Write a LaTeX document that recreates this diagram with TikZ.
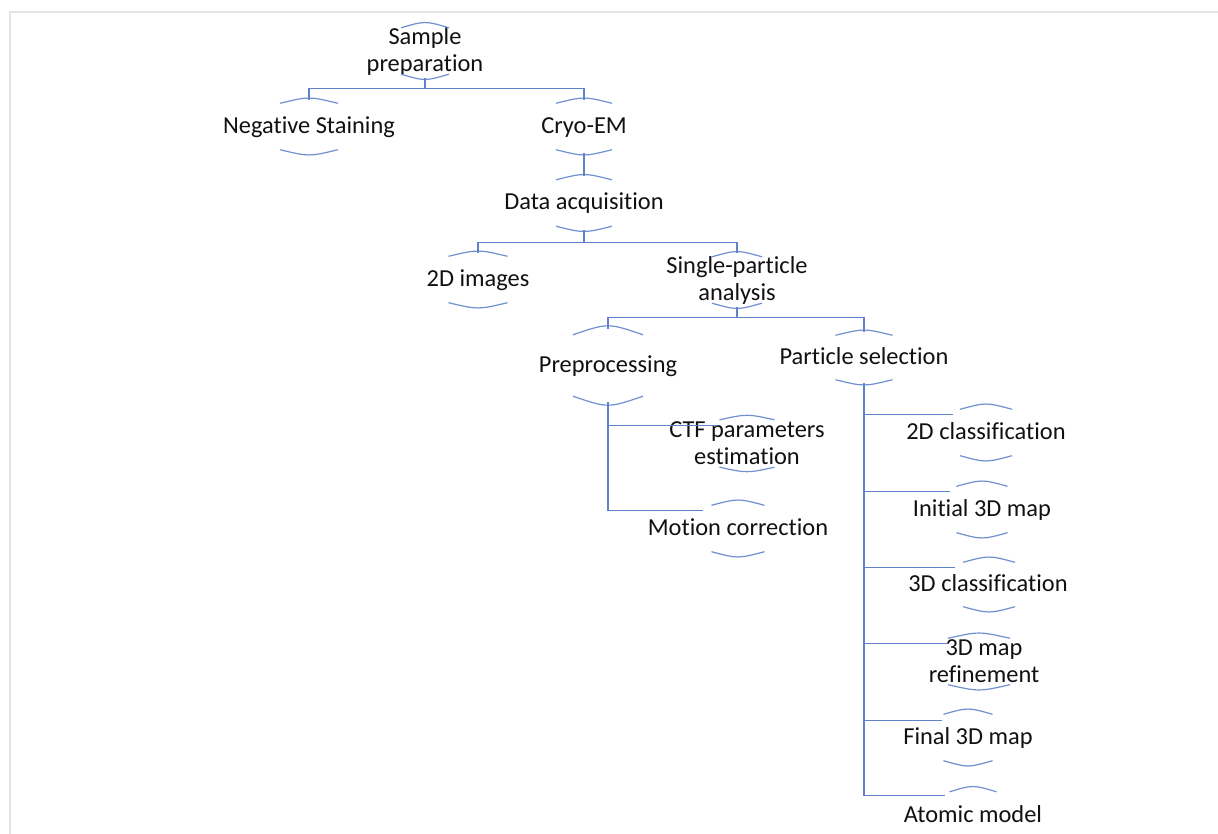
\documentclass[tikz,border=0pt]{standalone}
\usepackage{fontspec}
\setmainfont{Carlito}[Ligatures=NoCommon]
\usetikzlibrary{calc}
\definecolor{lineblue}{HTML}{5F82C8}
\definecolor{arcblue}{HTML}{7090D0}
\definecolor{txt}{HTML}{111111}
\definecolor{framegray}{HTML}{E4E4E4}
\newcommand{\twol}[2]{\vbox{\halign{\hfil##\hfil\cr #1\cr #2\cr}}}
\begin{document}
\begin{tikzpicture}[x=1pt,y=-1pt,
  lbl/.style={inner sep=0pt, font=\fontsize{24.4}{27}\selectfont, text=txt, text height=14pt, text depth=0pt, minimum height=53pt},
  two/.style={text height=41pt},
  conn/.style={draw=lineblue, line width=1.3pt},
  arcl/.style={draw=arcblue, line width=1.2pt}]
\clip (0,0) rectangle (1218,834);
\fill[white] (0,0) rectangle (1218,834);
\draw[framegray, line width=2pt] (1218,12) -- (9.5,12) -- (9.5,834);

\node[lbl,two] (sp) at (425,51) {\twol{Sample}{preparation}};
\node[lbl] (ns) at (309,126.5) {Negative Staining};
\node[lbl] (cryo) at (584,126.5) {Cryo-EM};
\node[lbl] (da) at (584,203) {Data acquisition};
\node[lbl] (img) at (478,279.5) {2D images};
\node[lbl,two] (spa) at (737,280) {\twol{Single-particle}{analysis}};
\node[lbl,minimum height=73pt] (pre) at (608,365.5) {Preprocessing};
\node[lbl,minimum height=51pt] (ps) at (864,357.5) {Particle selection};
\node[lbl,two] (ctf) at (747,443.5) {\twol{CTF parameters}{estimation}};
\node[lbl] (mot) at (738,528.5) {Motion correction};
\node[lbl] (c2d) at (986,432.5) {2D classification};
\node[lbl] (i3d) at (982,509.5) {Initial 3D map};
\node[lbl,minimum height=51pt] (c3d) at (988,584.5) {3D classification};
\node[lbl,two] (ref) at (984,661.5) {\twol{3D map}{refinement}};
\node[lbl] (fin) at (968,737.5) {Final 3D map};
\node[lbl] (atom) at (973,815) {Atomic model};

\foreach \n/\w/\s/\d in {sp/24/3.5/0, ns/29/3.5/0, cryo/28/3.5/0, da/28/3.5/0, img/29.5/3.5/0, spa/25/3.5/0, pre/35/6/0, ps/28.5/3.5/0, ctf/27.5/3/0, mot/26.5/3.5/0, c2d/26/3.5/0, i3d/25.5/3.5/0, c3d/26/3.5/1, ref/31/3.5/-5, fin/24.5/3.5/0, atom/23.5/3.5/0}{
  \draw[arcl] ($(\n.north)+(\d-\w,\s)$) .. controls ($(\n.north)+(\d,-\s)$) .. ($(\n.north)+(\d+\w,\s)$);
  \draw[arcl] ($(\n.south)+(\d-\w,-\s)$) .. controls ($(\n.south)+(\d,\s)$) .. ($(\n.south)+(\d+\w,-\s)$);
}

\draw[conn] (sp.south) -- ++(0,11) -| (ns.north);
\draw[conn] (sp.south) -- ++(0,11) -| (cryo.north);
\draw[conn] (cryo.south) -- (da.north);
\draw[conn] (da.south) -- ++(0,12.5) -| (img.north);
\draw[conn] (da.south) -- ++(0,12.5) -| (spa.north);
\draw[conn] (spa.south) -- ++(0,11) -| (pre.north);
\draw[conn] (spa.south) -- ++(0,11) -| (ps.north);
\draw[conn] (pre.south) |- ($(ctf.north)+(-30,9)$);
\draw[conn] (pre.south) |- ($(mot.north)+(-35,9)$);
\draw[conn] (ps.south) |- ($(c2d.north)+(-33,9)$);
\draw[conn] (ps.south) |- ($(i3d.north)+(-32,9)$);
\draw[conn] (ps.south) |- ($(c3d.north)+(-33,9)$);
\draw[conn] (ps.south) |- ($(ref.north)+(-37,9)$);
\draw[conn] (ps.south) |- ($(fin.north)+(-26,10)$);
\draw[conn] (ps.south) |- ($(atom.north)+(-28,7.5)$);
\end{tikzpicture}
\end{document}
